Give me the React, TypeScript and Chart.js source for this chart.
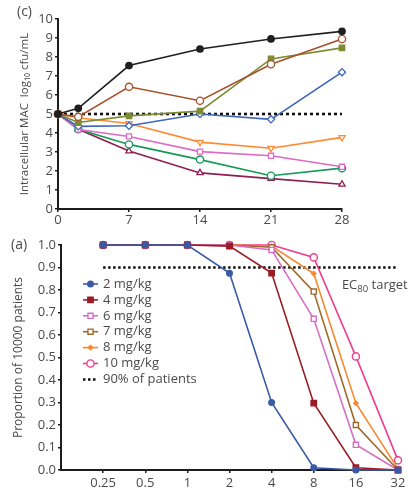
import React, { useEffect, useRef } from 'react';
import { Chart, registerables } from 'chart.js';
import { drawPoint } from 'chart.js/helpers';

Chart.register(...registerables);

const FONT = '"Open Sans", "DejaVu Sans", sans-serif';
const TEXT = '#4a4a4a';
const AXIS = '#1c1c1c';

// ---------- Panel (c): intracellular MAC over time ----------
const days = [0, 2, 7, 14, 21, 28];
const dayTicks = [0, 7, 14, 21, 28];
const cBlack = [5.0, 5.3, 7.55, 8.42, 8.95, 9.35];
const cBrown = [5.0, 4.85, 6.43, 5.7, 7.62, 8.95];
const cOlive = [5.0, 4.55, 4.9, 5.15, 7.9, 8.48];
const cBlue = [5.0, 4.35, 4.38, 5.0, 4.72, 7.2];
const cOrange = [5.0, 4.8, 4.5, 3.52, 3.2, 3.77];
const cPink = [5.0, 4.18, 3.82, 3.02, 2.8, 2.22];
const cGreen = [5.0, 4.2, 3.4, 2.6, 1.75, 2.15];
const cMaroon = [5.0, 4.2, 3.05, 1.9, 1.6, 1.3];
const stasisDays = [0, 28];
const stasisLevel = [5, 5];

// ---------- Panel (a): probability of target attainment ----------
const mics = [0.25, 0.5, 1, 2, 4, 8, 16, 32];
const doseLabels = ['2 mg/kg', '4 mg/kg', '6 mg/kg', '7 mg/kg', '8 mg/kg', '10 mg/kg'];
const pta2 = [1, 1, 1, 0.875, 0.3, 0.01, 0, 0];
const pta4 = [1, 1, 1, 0.995, 0.875, 0.297, 0.01, 0];
const pta6 = [1, 1, 1, 1, 0.978, 0.672, 0.112, 0];
const pta7 = [1, 1, 1, 1, 0.99, 0.793, 0.2, 0];
const pta8 = [1, 1, 1, 1, 0.995, 0.873, 0.297, 0.005];
const pta10 = [1, 1, 1, 1, 1, 0.945, 0.505, 0.043];
const targetLabel = '90% of patients';
const targetMics = [0.25, 32];
const targetLevel = [0.9, 0.9];

const pts = (xs: number[], ys: number[]) => xs.map((x, i) => ({ x, y: ys[i] }));

function cSeries(data: number[], color: string, style: any, filled: boolean, radius = 3.6) {
  return {
    data: pts(days, data),
    borderColor: color,
    borderWidth: 1.6,
    pointStyle: style,
    pointRadius: radius,
    pointBorderColor: color,
    pointBorderWidth: 1.3,
    pointBackgroundColor: filled ? color : '#ffffff',
    clip: false,
  };
}

function aSeries(label: string, data: number[], color: string, style: any, filled: boolean, radius = 3.6) {
  return {
    label,
    data: pts(mics, data),
    borderColor: color,
    borderWidth: 1.6,
    pointStyle: style,
    pointRadius: radius,
    pointBorderColor: color,
    pointBorderWidth: 1.4,
    pointBackgroundColor: filled ? color : '#ffffff',
    clip: false,
  };
}

const tickFont = { family: FONT, size: 13 };

const panelLabel = (text: string, x: number, y: number) => ({
  id: 'panelLabel' + text,
  afterDraw(chart: any) {
    const ctx = chart.ctx;
    ctx.save();
    ctx.font = `14px ${FONT}`;
    ctx.fillStyle = TEXT;
    ctx.textBaseline = 'middle';
    ctx.textAlign = 'left';
    ctx.fillText(text, x, y);
    ctx.restore();
  },
});

const legendPlugin = {
  id: 'insideLegend',
  afterDraw(chart: any) {
    const ctx = chart.ctx;
    const area = chart.chartArea;
    const x0 = area.left + 22;
    chart.data.datasets.forEach((ds: any, i: number) => {
      const y = area.top + 39 + i * 15.9;
      ctx.save();
      ctx.strokeStyle = ds.borderColor;
      ctx.lineWidth = ds.borderDash ? 2.5 : ds.borderWidth;
      ctx.setLineDash(ds.borderDash || []);
      ctx.beginPath();
      ctx.moveTo(x0, y);
      ctx.lineTo(x0 + 15, y);
      ctx.stroke();
      ctx.setLineDash([]);
      if (ds.pointRadius > 0) {
        ctx.fillStyle = ds.pointBackgroundColor;
        ctx.strokeStyle = ds.pointBorderColor;
        ctx.lineWidth = ds.pointBorderWidth;
        drawPoint(ctx, { pointStyle: ds.pointStyle, radius: ds.pointRadius, rotation: 0, borderWidth: ds.pointBorderWidth }, x0 + 7.5, y);
      }
      ctx.font = `13px ${FONT}`;
      ctx.fillStyle = TEXT;
      ctx.textBaseline = 'middle';
      ctx.textAlign = 'left';
      ctx.fillText(ds.label, x0 + 20, y);
      ctx.restore();
    });
  },
};

const ecLabel = {
  id: 'ecLabel',
  afterDraw(chart: any) {
    const ctx = chart.ctx;
    const xs = chart.scales.x;
    const ys = chart.scales.y;
    const x = xs.getPixelForValue(16) - 14;
    const y = ys.getPixelForValue(0.822);
    ctx.save();
    ctx.fillStyle = TEXT;
    ctx.textBaseline = 'middle';
    ctx.textAlign = 'left';
    ctx.font = `13px ${FONT}`;
    ctx.fillText('EC', x, y);
    let w = ctx.measureText('EC').width;
    ctx.font = `9.5px ${FONT}`;
    ctx.fillText('80', x + w, y + 4);
    w += ctx.measureText('80').width;
    ctx.font = `13px ${FONT}`;
    ctx.fillText(' target', x + w, y);
    ctx.restore();
  },
};

export default function App() {
  const topRef = useRef<HTMLCanvasElement>(null);
  const botRef = useRef<HTMLCanvasElement>(null);

  useEffect(() => {
    const top = new Chart(topRef.current as HTMLCanvasElement, {
      type: 'line',
      data: {
        datasets: [
          cSeries(cBlack, '#1f1f1f', 'circle', true, 3.2),
          cSeries(cBrown, '#a5522a', 'circle', false),
          cSeries(cOlive, '#7d8b32', 'rect', true, 3.8),
          cSeries(cBlue, '#3f66b8', 'rectRot', false, 3.6),
          { ...cSeries(cOrange, '#ff8a33', 'triangle', false), pointRotation: 180 },
          cSeries(cPink, '#dd6ac4', 'rect', false),
          cSeries(cGreen, '#169a58', 'circle', false),
          cSeries(cMaroon, '#8e1f4f', 'triangle', false),
          {
            data: pts(stasisDays, stasisLevel),
            borderColor: '#111111',
            borderWidth: 2.6,
            borderDash: [3, 3],
            pointRadius: 0,
          },
        ] as any,
      },
      options: {
        animation: false,
        responsive: false,
        layout: { padding: { left: 0, right: 66, top: 19, bottom: 0 } },
        plugins: { legend: { display: false }, tooltip: { enabled: false } },
        scales: {
          x: {
            type: 'linear',
            min: 0,
            max: 28,
            afterBuildTicks: (s: any) => {
              s.ticks = dayTicks.map((v) => ({ value: v }));
            },
            afterFit: (s: any) => {
              s.height = 21;
            },
            grid: { drawOnChartArea: false, tickLength: 3, color: AXIS, lineWidth: 1.5 },
            border: { color: AXIS, width: 2 },
            ticks: { font: tickFont, color: TEXT, padding: 0, maxRotation: 0 },
          },
          y: {
            min: 0,
            max: 10,
            afterFit: (s: any) => {
              s.width = 58;
            },
            grid: { drawOnChartArea: false, tickLength: 3, color: AXIS, lineWidth: 1.5 },
            border: { color: AXIS, width: 2 },
            ticks: { stepSize: 1, font: tickFont, color: TEXT, padding: 2 },
            title: {
              display: true,
              text: 'Intracellular MAC  log\u2081\u2080 cfu/mL',
              font: { family: FONT, size: 11.5 },
              color: TEXT,
              padding: { top: 18, bottom: 0 },
            },
          },
        },
      },
      plugins: [panelLabel('(c)', 17, 12)],
    } as any);

    const bot = new Chart(botRef.current as HTMLCanvasElement, {
      type: 'line',
      data: {
        datasets: [
          aSeries(doseLabels[0], pta2, '#3a5aa8', 'circle', true, 2.8),
          aSeries(doseLabels[1], pta4, '#9c1c24', 'rect', true, 3.8),
          aSeries(doseLabels[2], pta6, '#d66ec3', 'rect', false, 3.6),
          aSeries(doseLabels[3], pta7, '#a0692b', 'rect', false, 3.6),
          aSeries(doseLabels[4], pta8, '#f7882f', 'rectRot', true, 2.2),
          aSeries(doseLabels[5], pta10, '#ee3d8d', 'circle', false, 3.6),
          {
            label: targetLabel,
            data: pts(targetMics, targetLevel),
            borderColor: '#111111',
            borderWidth: 2.6,
            borderDash: [2.5, 2.5],
            pointRadius: 0,
          },
        ] as any,
      },
      options: {
        animation: false,
        responsive: false,
        layout: { padding: { left: 0, right: 10, top: 15, bottom: 0 } },
        plugins: { legend: { display: false }, tooltip: { enabled: false } },
        scales: {
          x: {
            type: 'logarithmic',
            min: 0.125,
            max: 32,
            afterBuildTicks: (s: any) => {
              s.ticks = mics.map((v) => ({ value: v }));
            },
            afterFit: (s: any) => {
              s.height = 20;
            },
            grid: { drawOnChartArea: false, tickLength: 3, color: AXIS, lineWidth: 1.5 },
            border: { color: AXIS, width: 2 },
            ticks: {
              font: tickFont,
              color: TEXT,
              padding: 2,
              maxRotation: 0,
              autoSkip: false,
              callback: (v: any) => String(v),
            },
          },
          y: {
            min: 0,
            max: 1,
            afterFit: (s: any) => {
              s.width = 61;
            },
            grid: { drawOnChartArea: false, tickLength: 3, color: AXIS, lineWidth: 1.5 },
            border: { color: AXIS, width: 2 },
            ticks: {
              stepSize: 0.1,
              font: tickFont,
              color: TEXT,
              padding: 2,
              callback: (v: any) => Number(v).toFixed(1),
            },
            title: {
              display: true,
              text: 'Proportion of 10000 patients',
              font: { family: FONT, size: 12 },
              color: TEXT,
              padding: { top: 11, bottom: 0 },
            },
          },
        },
      },
      plugins: [panelLabel('(a)', 11, 15), legendPlugin, ecLabel],
    } as any);

    return () => {
      top.destroy();
      bot.destroy();
    };
  }, []);

  return (
    <div style={{ position: 'absolute', left: 0, top: 0, width: 408, height: 490, background: '#fff' }}>
      <canvas ref={topRef} width={408} height={230} style={{ position: 'absolute', left: 0, top: 0, width: 408, height: 230 }} />
      <canvas ref={botRef} width={408} height={260} style={{ position: 'absolute', left: 0, top: 230, width: 408, height: 260 }} />
    </div>
  );
}
